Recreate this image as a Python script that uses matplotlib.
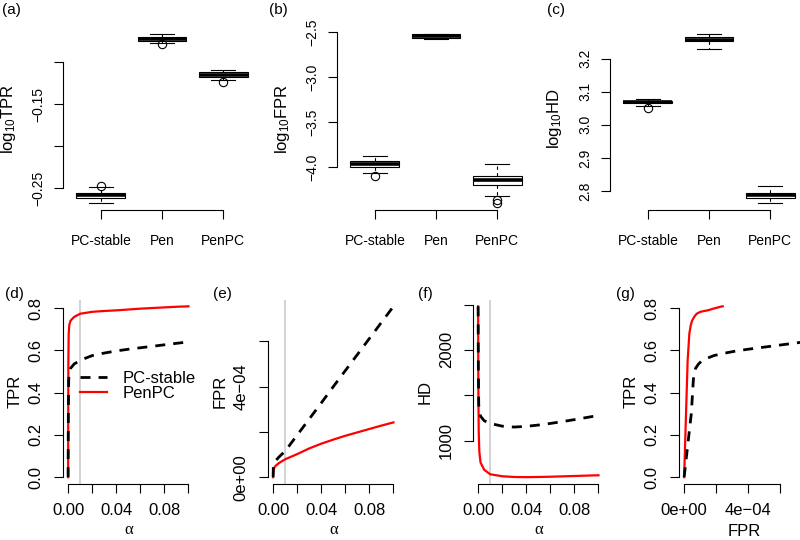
import numpy as np
import matplotlib.pyplot as plt
from matplotlib.lines import Line2D

plt.rcParams.update({'font.family': ['Liberation Sans', 'DejaVu Sans'],
                     'mathtext.fontset': 'custom',
                     'mathtext.rm': 'Liberation Sans',
                     'mathtext.it': 'Liberation Sans:italic'})

W, H = 800, 540

# boxplots (escala log10)
metodos = ['PC-stable', 'Pen', 'PenPC']

tpr_med = [-0.2585, -0.0720, -0.1150]
tpr_q1 = [-0.2613, -0.0746, -0.1175]
tpr_q3 = [-0.2560, -0.0699, -0.1123]
tpr_lo = [-0.2679, -0.0774, -0.1214]
tpr_hi = [-0.2488, -0.0663, -0.1099]
tpr_out = [[-0.2476], [-0.0786], [-0.1234]]

fpr_med = [-3.963, -2.541, -4.144]
fpr_q1 = [-3.997, -2.562, -4.200]
fpr_q3 = [-3.930, -2.522, -4.100]
fpr_lo = [-4.060, -2.570, -4.322]
fpr_hi = [-3.874, -2.515, -3.963]
fpr_out = [[-4.100], [], [-4.359, -4.397]]

hd_med = [3.0685, 3.2576, 2.787]
hd_q1 = [3.066, 3.2525, 2.779]
hd_q3 = [3.072, 3.2645, 2.794]
hd_lo = [3.058, 3.230, 2.763]
hd_hi = [3.078, 3.275, 2.814]
hd_out = [[3.052], [], []]

# curvas em funcao de alpha
alfa = [0, 0.0002, 0.0005, 0.001, 0.002, 0.005, 0.01, 0.02, 0.03, 0.04,
        0.05, 0.06, 0.07, 0.08, 0.09, 0.10]
tpr_pc = [0, 0.30, 0.46, 0.50, 0.515, 0.535, 0.553, 0.575, 0.587, 0.597,
          0.605, 0.612, 0.619, 0.626, 0.633, 0.640]
tpr_pen = [0, 0.55, 0.68, 0.72, 0.74, 0.758, 0.773, 0.782, 0.786, 0.789,
           0.793, 0.797, 0.800, 0.803, 0.806, 0.808]
fpr_pc = np.array([0, 0.45, 0.58, 0.64, 0.72, 0.90, 1.15, 1.86, 2.57, 3.28,
                   4.00, 4.71, 5.42, 6.13, 6.84, 7.55]) * 1e-4
fpr_pen = np.array([0, 0.22, 0.33, 0.42, 0.50, 0.63, 0.79, 1.02, 1.27, 1.48,
                    1.66, 1.83, 1.98, 2.13, 2.28, 2.42]) * 1e-4
hd_pc = [2480, 1800, 1400, 1320, 1270, 1220, 1190, 1160, 1150, 1158,
         1172, 1190, 1210, 1232, 1255, 1278]
hd_pen = [2480, 1600, 1100, 880, 760, 680, 630, 608, 600, 598,
          600, 603, 607, 611, 615, 619]

fig = plt.figure(figsize=(8, 5.4), dpi=100)


def eixo(x0, y0, x1, y1):
    return fig.add_axes([x0 / W, 1 - y1 / H, (x1 - x0) / W, (y1 - y0) / H])


def base(ax, fs, pad):
    for s in ['top', 'right']:
        ax.spines[s].set_visible(False)
    for s in ['left', 'bottom']:
        ax.spines[s].set_linewidth(0.8)
    ax.tick_params(direction='out', length=6.5, width=0.8, labelsize=fs, pad=pad)


#%% linha de cima: boxplots
topo = [
    (63, 261, tpr_med, tpr_q1, tpr_q3, tpr_lo, tpr_hi, tpr_out,
     [-0.25, -0.20, -0.15, -0.10], ['\u22120.25', '', '\u22120.15', ''], 'TPR', '(a)', 11),
    (337, 535, fpr_med, fpr_q1, fpr_q3, fpr_lo, fpr_hi, fpr_out,
     [-4.0, -3.5, -3.0, -2.5], ['\u22124.0', '\u22123.5', '\u22123.0', '\u22122.5'], 'FPR', '(b)', 278),
    (610, 808, hd_med, hd_q1, hd_q3, hd_lo, hd_hi, hd_out,
     [2.8, 2.9, 3.0, 3.1, 3.2], ['2.8', '2.9', '3.0', '3.1', '3.2'], 'HD', '(c)', 556),
]

for x0, x1, med, q1, q3, lo, hi, out, yt, ylab, nome, letra, xl in topo:
    ax = eixo(x0, 27, x1, 210)
    stats = [dict(med=med[i], q1=q1[i], q3=q3[i], whislo=lo[i], whishi=hi[i],
                  fliers=out[i]) for i in range(3)]
    ax.bxp(stats, positions=[1, 2, 3], widths=0.8, capwidths=0.4, patch_artist=True,
           boxprops=dict(facecolor='white', edgecolor='black', lw=0.8),
           medianprops=dict(color='black', lw=2.6, solid_capstyle='butt'),
           whiskerprops=dict(color='black', lw=0.8, linestyle=(0, (3, 3))),
           capprops=dict(color='black', lw=0.8),
           flierprops=dict(marker='o', markerfacecolor='none', markeredgecolor='black',
                           markersize=6, markeredgewidth=0.8))
    vals = lo + hi + sum(out, [])
    r = max(vals) - min(vals)
    ax.set_ylim(min(vals) - 0.04 * r, max(vals) + 0.04 * r)
    ax.set_xlim(0.38, 3.62)
    base(ax, 10, 6.5)
    ax.tick_params(axis='x', pad=11)
    ax.set_xticks([1, 2, 3], metodos)
    ax.set_yticks(yt, ylab, rotation=90, va='center')
    ax.spines['bottom'].set_bounds(1, 3)
    ax.spines['left'].set_bounds(yt[0], yt[-1])
    ax.set_ylabel(r'$\mathrm{log_{10}' + nome + '}$', fontsize=12)
    ax.yaxis.label.set_va('center')
    ax.yaxis.set_label_coords(-55 / (x1 - x0), 0.5)
    fig.text(xl / W, 1 - 10 / H, letra, fontsize=11, ha='center', va='center')

#%% linha de baixo: curvas
xa = [0, 0.02, 0.04, 0.06, 0.08, 0.10]
xa_lab = ['0.00', '', '0.04', '', '0.08', '']
xf = [0, 2e-4, 4e-4, 6e-4]
xf_lab = ['0e+00', '', '4e\u221204', '']

baixo = [
    (63.3, alfa, tpr_pc, tpr_pen, xa, xa_lab, 'α', [0, 0.2, 0.4, 0.6, 0.8],
     ['0.0', '0.2', '0.4', '0.6', '0.8'], 'TPR', '(d)', 14),
    (268.3, alfa, fpr_pc, fpr_pen, xa, xa_lab, 'α', xf, xf_lab, 'FPR', '(e)', 222),
    (473.3, alfa, hd_pc, hd_pen, xa, xa_lab, 'α', [1000, 1500, 2000, 2500],
     ['1000', '', '2000', ''], 'HD', '(f)', 425),
    (679.3, fpr_pc, tpr_pc, None, xf, xf_lab, 'FPR', [0, 0.2, 0.4, 0.6, 0.8],
     ['0.0', '0.2', '0.4', '0.6', '0.8'], 'TPR', '(g)', 625),
]

for x0, xx, y_pc, y_pen, xt, xlab, xnome, yt, ylab, ynome, letra, xl in baixo:
    ax = eixo(x0, 299.5, x0 + 130, 484)
    if y_pen is None:
        ax.plot(fpr_pen, tpr_pen, color='red', lw=1.6)
    else:
        ax.axvline(0.01, color='#d0d0d0', lw=1.3, zorder=0)
        ax.plot(xx, y_pen, color='red', lw=1.6)
    ax.plot(xx, y_pc, color='black', lw=2, dashes=(3.6, 2.9))
    ax.margins(x=0.04, y=0.04)
    base(ax, 12, 7.5)
    ax.set_xticks(xt, xlab)
    ax.set_yticks(yt, ylab, rotation=90, va='center')
    ax.spines['bottom'].set_bounds(xt[0], xt[-1])
    ax.spines['left'].set_bounds(yt[0], yt[-1])
    if xnome == 'α':
        ax.set_xlabel(xnome, fontsize=12, family='Liberation Serif')
        ax.xaxis.set_label_coords(0.5, -46 / 184.5)
    else:
        ax.set_xlabel(xnome, fontsize=12)
        ax.xaxis.set_label_coords(0.5, -48 / 184.5)
    ax.xaxis.label.set_va('center')
    ax.set_ylabel(ynome, fontsize=12)
    ax.yaxis.label.set_va('center')
    ax.yaxis.set_label_coords(-48 / 130, 0.5)
    fig.text(xl / W, 1 - 294 / H, letra, fontsize=11, ha='center', va='center')
    if letra == '(d)':
        ax.legend(handles=[Line2D([], [], color='black', lw=2, dashes=(3.6, 2.9)),
                           Line2D([], [], color='red', lw=1.6)],
                  labels=['PC-stable', 'PenPC'], frameon=False, loc='upper left',
                  bbox_to_anchor=(80 / W, 1 - 371 / H), bbox_transform=fig.transFigure,
                  borderpad=0, borderaxespad=0, handlelength=1.6, handletextpad=0.95,
                  labelspacing=0.0, fontsize=12)

fig.savefig('out.png', dpi=100)
